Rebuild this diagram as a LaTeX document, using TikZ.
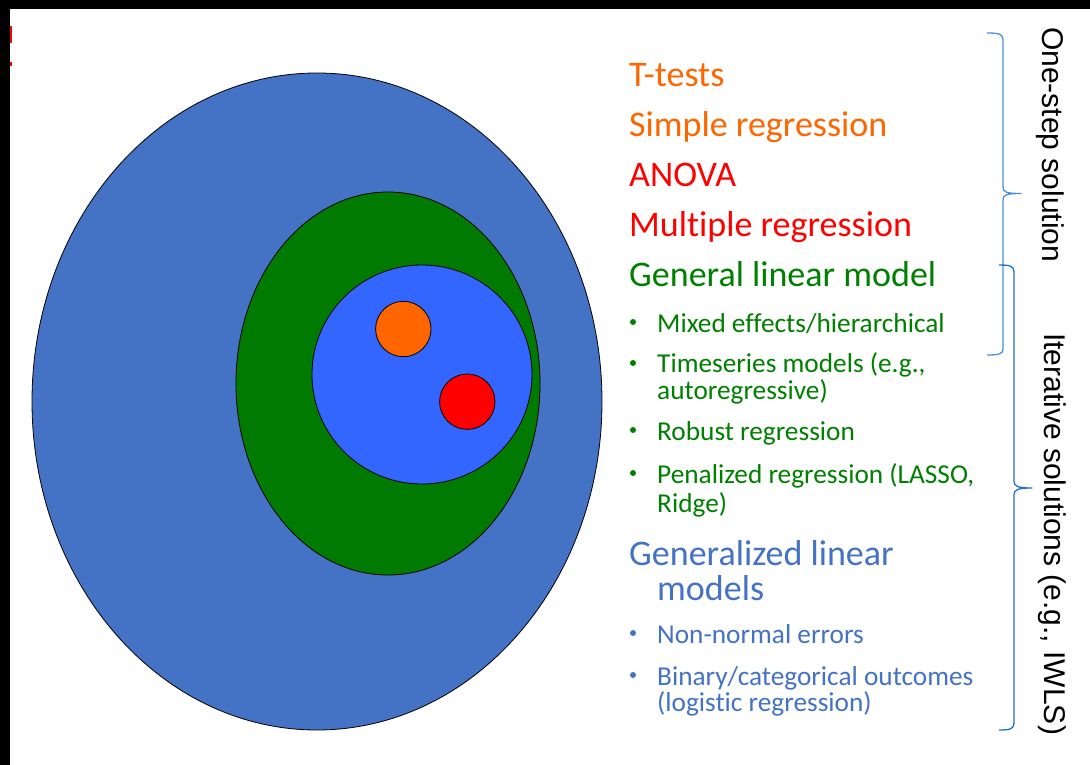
\documentclass[tikz,border=0pt]{standalone}
\usepackage{fontspec}
\setmainfont{Carlito}[Ligatures={NoCommon}]
\newfontfamily\arialfont{Liberation Sans}
\usetikzlibrary{shapes.geometric}

\definecolor{outerblue}{HTML}{4472C4}
\definecolor{glmgreen}{HTML}{007A00}
\definecolor{innerblue}{HTML}{3366FF}
\definecolor{torange}{HTML}{FF6600}
\definecolor{tred}{HTML}{FF0000}
\definecolor{txtgreen}{HTML}{008000}
\definecolor{txtblue}{HTML}{4472C4}
\definecolor{braceone}{HTML}{4A8FDB}
\definecolor{bracetwo}{HTML}{1F6FC5}

\begin{document}
\begin{tikzpicture}[x=1pt,y=-1pt,
  blob/.style={ellipse, draw=black, line width=0.8pt, inner sep=0pt, outer sep=0pt},
  big/.style={anchor=base west, font=\fontsize{36}{36}\selectfont, inner sep=0pt},
  sub/.style={anchor=base west, font=\fontsize{27.3}{27.3}\selectfont, inner sep=0pt},
  dot/.style={circle, inner sep=0pt, minimum size=6pt},
  side/.style={anchor=base west, rotate=-90, font=\arialfont\fontsize{30}{30}\selectfont, inner sep=0pt},
  bracket/.style={line width=1.3pt, line join=round}]

\useasboundingbox (0,0) rectangle (1090,765);
\fill[white] (0,0) rectangle (1090,765);

% frame bands and the red mark at the upper left
\fill[black] (0,0) rectangle (1090,9);
\fill[black] (0,0) rectangle (10,765);
\fill[tred] (9.5,26) rectangle (11.5,43);
\fill[tred] (9.5,62) rectangle (11.5,66);

% nested model families
\node[blob, fill=outerblue, minimum width=570pt, minimum height=657pt] (glz) at (317,401.5) {};
\node[blob, fill=glmgreen, minimum width=304pt, minimum height=383pt] (glm) at (388,383.5) {};
\node[blob, fill=innerblue, minimum width=220pt, minimum height=219pt] (ols) at (422,374.5) {};
\node[blob, fill=torange, minimum width=55.4pt, minimum height=55.4pt] (ttest) at (403.3,329) {};
\node[blob, fill=tred, minimum width=55.4pt, minimum height=55.4pt] (anova) at (467.3,401.7) {};

% method list
\node[big, text=torange] (tt) at (629,86.7) {T-tests};
\node[big, text=torange] (sr) at (629,136.7) {Simple regression};
\node[big, text=tred] (av) at (629,186.7) {ANOVA};
\node[big, text=tred] (mr) at (629,236.7) {Multiple regression};
\node[big, text=txtgreen] (gl) at (629,286.7) {General linear model};

\node[dot, fill=txtgreen] (d1) at (633,322) {};
\node[sub, text=txtgreen] (me) at (657,332) {Mixed effects/hierarchical};
\node[dot, fill=txtgreen] (d2) at (633,363) {};
\node[sub, text=txtgreen] (ts) at (657,372.7) {Timeseries models (e.g.,};
\node[sub, text=txtgreen] (ts2) at (657,399.5) {autoregressive)};
\node[dot, fill=txtgreen] (d3) at (633,430) {};
\node[sub, text=txtgreen] (rr) at (657,440) {Robust regression};
\node[dot, fill=txtgreen] (d4) at (633,473) {};
\node[sub, text=txtgreen] (pr) at (657,483.3) {Penalized regression (LASSO,};
\node[sub, text=txtgreen] (pr2) at (657,512) {Ridge)};

\node[big, text=txtblue] (gz) at (629,565) {Generalized linear};
\node[big, text=txtblue] (gz2) at (657,600) {models};
\node[dot, fill=txtblue] (d5) at (633,633) {};
\node[sub, text=txtblue] (nn) at (657,643) {Non-normal errors};
\node[dot, fill=txtblue] (d6) at (633,675) {};
\node[sub, text=txtblue] (bc) at (657,685) {Binary/categorical outcomes};
\node[sub, text=txtblue] (bc2) at (657,711.7) {(logistic regression)};

% braces
\draw[bracket, braceone] (987,33) .. controls (999,33) and (1003,34) .. (1003,40)
  -- (1003,187) .. controls (1003,192) and (1006,193.5) .. (1021,193.5)
  .. controls (1006,193.5) and (1003,195) .. (1003,200)
  -- (1003,349) .. controls (1003,354) and (999,355) .. (987,355);
\draw[bracket, bracetwo] (999,265) .. controls (1010,265) and (1014,266) .. (1014,272)
  -- (1014,481) .. controls (1014,486) and (1017,488) .. (1032,488)
  .. controls (1017,488) and (1014,490) .. (1014,495)
  -- (1014,723) .. controls (1014,729) and (1010,730) .. (999,730);

% brace captions
\node[side] (onestep) at (1042,27) {One-step solution};
\node[side] (iter) at (1044,333) {Iterative solutions (e.g., IWLS)};

\end{tikzpicture}
\end{document}
